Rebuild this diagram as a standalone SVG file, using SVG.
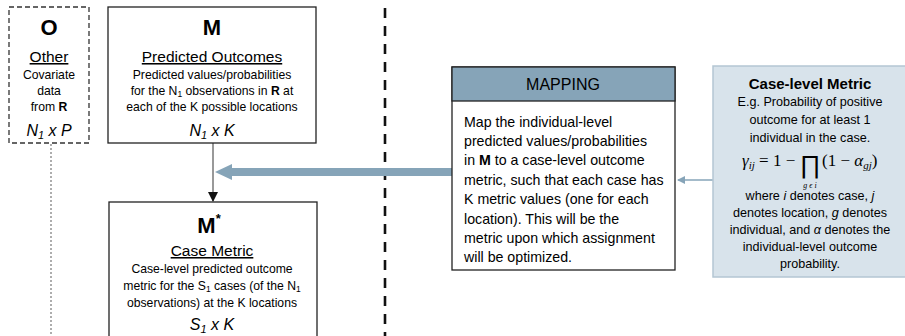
<svg xmlns="http://www.w3.org/2000/svg" width="905" height="336" viewBox="0 0 905 336">
<defs>
<style>
text{font-family:"Liberation Sans",Arial,sans-serif;fill:#000;}
.c{text-anchor:middle;}
.big{font-size:22px;font-weight:bold;}
.ttl{font-size:15.5px;text-decoration:underline;}
.sm{font-size:12.2px;}
.dim{font-size:16px;font-style:italic;}
.box{fill:#fff;stroke:#222;stroke-width:1.3;}
.mp{font-size:14.2px;}
.cl{font-size:12.6px;}
.math{font-family:"Liberation Serif","Times New Roman",serif;font-style:italic;}
</style>
<marker id="ah" markerWidth="10" markerHeight="10" refX="9" refY="5" orient="auto" markerUnits="userSpaceOnUse">
<path d="M0,0 L10,5 L0,10 Z" fill="#111"/>
</marker>
<marker id="ahb" markerWidth="8" markerHeight="8" refX="7" refY="4" orient="auto" markerUnits="userSpaceOnUse">
<path d="M0,0 L8,4 L0,8 Z" fill="#86A4B8"/>
</marker>
</defs>
<rect width="905" height="336" fill="#fff"/>

<g id="connectors">
<line x1="51" y1="144" x2="51" y2="336" stroke="#777" stroke-width="1.2" stroke-dasharray="2,2"/>
<line x1="385" y1="8" x2="385" y2="336" stroke="#111" stroke-width="2.6" stroke-dasharray="10,8"/>
<line x1="213" y1="143" x2="213" y2="201" stroke="#555" stroke-width="1.2" marker-end="url(#ah)"/>
<path d="M452,168 L232,168 L232,164 L215,172 L232,180 L232,176 L452,176 Z" fill="#86A4B8"/>
<line x1="713" y1="180" x2="678" y2="180" stroke="#86A4B8" stroke-width="1.5" marker-end="url(#ahb)"/>
</g>

<g id="node-O">
<rect x="9" y="7" width="80" height="136" fill="#fff" stroke="#333" stroke-width="1.3" stroke-dasharray="5,3"/>
<text x="49" y="35" class="c big">O</text>
<text x="49" y="62" class="c ttl">Other</text>
<text x="49" y="79" class="c sm">Covariate</text>
<text x="49" y="95" class="c sm">data</text>
<text x="49" y="111" class="c sm">from <tspan font-weight="bold">R</tspan></text>
<text x="49" y="136" class="c dim">N<tspan font-size="11" dy="3">1</tspan><tspan dy="-3"> x P</tspan></text>
</g>

<g id="node-M">
<rect x="108" y="7" width="208" height="136" class="box"/>
<text x="212" y="35" class="c big">M</text>
<text x="212" y="62" class="c ttl">Predicted Outcomes</text>
<text x="212" y="79" class="c sm">Predicted values/probabilities</text>
<text x="212" y="95" class="c sm">for the N<tspan font-size="8.5" dy="2">1</tspan><tspan dy="-2"> observations in </tspan><tspan font-weight="bold">R</tspan> at</text>
<text x="212" y="111" class="c sm">each of the K possible locations</text>
<text x="212" y="136" class="c dim">N<tspan font-size="11" dy="3">1</tspan><tspan dy="-3"> x K</tspan></text>
</g>

<g id="node-Mstar">
<rect x="109" y="202" width="208" height="140" class="box"/>
<text x="209" y="233" class="c big">M<tspan font-size="13" dy="-10">*</tspan></text>
<text x="212" y="256" class="c ttl">Case Metric</text>
<text x="212" y="273" class="c sm">Case-level predicted outcome</text>
<text x="212" y="290" class="c sm">metric for the S<tspan font-size="8.5" dy="2">1</tspan><tspan dy="-2"> cases (of the N</tspan><tspan font-size="8.5" dy="2">1</tspan></text>
<text x="212" y="307" class="c sm">observations) at the K locations</text>
<text x="212" y="330" class="c dim">S<tspan font-size="11" dy="3">1</tspan><tspan dy="-3"> x K</tspan></text>
</g>

<g id="node-mapping">
<rect x="452" y="67" width="223" height="203" class="box"/>
<rect x="452" y="67" width="223" height="34" fill="#86A4B8" stroke="#222" stroke-width="1.3"/>
<text x="563" y="90" class="c" font-size="16">MAPPING</text>
<text class="mp" x="464">
<tspan x="464" y="127">Map the individual-level</tspan>
<tspan x="464" y="146">predicted values/probabilities</tspan>
<tspan x="464" y="165">in <tspan font-weight="bold">M</tspan> to a case-level outcome</tspan>
<tspan x="464" y="185">metric, such that each case has</tspan>
<tspan x="464" y="204">K metric values (one for each</tspan>
<tspan x="464" y="224">location). This will be the</tspan>
<tspan x="464" y="243">metric upon which assignment</tspan>
<tspan x="464" y="262">will be optimized.</tspan>
</text>
</g>

<g id="node-caselevel">
<rect x="713" y="66" width="200" height="211" fill="#D8E3EB" stroke="#B4C6D3" stroke-width="1.5"/>
<text x="810" y="89" class="c" font-size="15" font-weight="bold">Case-level Metric</text>
<text x="810" y="106" class="c cl">E.g. Probability of positive</text>
<text x="810" y="124" class="c cl">outcome for at least 1</text>
<text x="810" y="142" class="c cl">individual in the case.</text>
<text x="742" y="166" font-size="17" class="math">γ<tspan font-size="11" dy="3">ij</tspan><tspan dy="-3" font-style="normal"> = 1 − </tspan></text>
<text x="810" y="173" class="c" font-size="25" font-family="'DejaVu Serif',serif">∏</text>
<text x="810" y="188" class="c math" font-size="8">g ϵ i</text>
<text x="822" y="166" font-size="17" class="math"><tspan font-style="normal">(1 −  </tspan>α<tspan font-size="11" dy="3">gj</tspan><tspan dy="-3" font-style="normal">)</tspan></text>
<text x="810" y="200" class="c cl">where <tspan font-style="italic">i</tspan> denotes case, <tspan font-style="italic">j</tspan></text>
<text x="810" y="217" class="c cl">denotes location, <tspan font-style="italic">g</tspan> denotes</text>
<text x="810" y="234" class="c cl">individual, and <tspan font-style="italic">α</tspan> denotes the</text>
<text x="810" y="251" class="c cl">individual-level outcome</text>
<text x="810" y="268" class="c cl">probability.</text>
</g>
</svg>
